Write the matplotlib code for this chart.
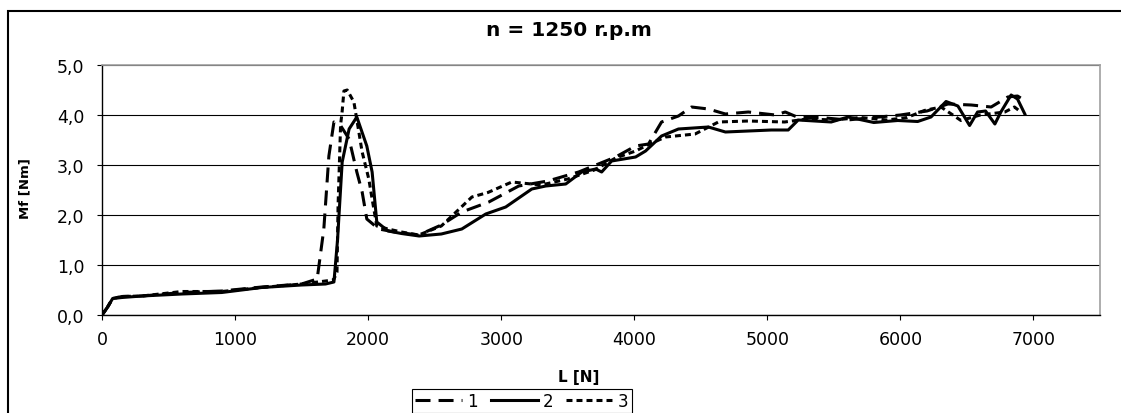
import matplotlib.pyplot as plt
from matplotlib.patches import Rectangle

plt.rcParams['font.family'] = ['DejaVu Sans']
plt.rcParams['lines.scale_dashes'] = False

# datos: L [N] y Mf [Nm]
L1 = [0, 40, 80, 150, 300, 600, 900, 1200, 1500, 1617, 1667, 1705, 1743, 1790, 1857, 1915, 1955, 1990, 2080,
      2200, 2380, 2550, 2704, 2907, 3132, 3350, 3582, 3860, 4010, 4107, 4205, 4332, 4430, 4557, 4685, 4857,
      5060, 5135, 5232, 5400, 5600, 5800, 6000, 6200, 6357, 6532, 6682, 6807, 6880, 6935]
M1 = [0, 0.15, 0.33, 0.37, 0.38, 0.45, 0.48, 0.56, 0.62, 0.72, 1.72, 3.18, 3.86, 3.8, 3.52, 2.86, 2.46, 1.92, 1.72,
      1.66, 1.6, 1.8, 2.06, 2.26, 2.58, 2.68, 2.86, 3.16, 3.38, 3.42, 3.86, 3.98, 4.16, 4.12, 4.02, 4.06,
      4.0, 4.06, 3.95, 3.95, 3.9, 3.95, 4.0, 4.08, 4.22, 4.2, 4.16, 4.36, 4.38, 4.29]

L2 = [0, 40, 80, 150, 300, 600, 900, 1200, 1500, 1680, 1743, 1770, 1805, 1857, 1915, 1990, 2030, 2065, 2150,
      2250, 2383, 2550, 2704, 2884, 3034, 3230, 3335, 3485, 3605, 3710, 3755, 3830, 4010, 4085, 4205, 4332,
      4557, 4685, 4857, 5030, 5157, 5232, 5480, 5607, 5800, 5980, 6130, 6230, 6343, 6432, 6520, 6580, 6640,
      6710, 6755, 6832, 6880, 6935]
M2 = [0, 0.15, 0.33, 0.35, 0.38, 0.42, 0.45, 0.55, 0.6, 0.62, 0.66, 1.5, 3.06, 3.72, 3.96, 3.38, 2.86, 1.86, 1.68,
      1.63, 1.58, 1.62, 1.72, 2.02, 2.16, 2.52, 2.58, 2.62, 2.86, 2.92, 2.86, 3.08, 3.16, 3.28, 3.58, 3.72,
      3.76, 3.66, 3.68, 3.7, 3.7, 3.9, 3.86, 3.96, 3.85, 3.89, 3.87, 3.96, 4.27, 4.18, 3.79, 4.06, 4.08,
      3.82, 4.06, 4.4, 4.32, 4.02]

L3 = [0, 40, 80, 150, 300, 600, 900, 1200, 1500, 1740, 1766, 1774, 1793, 1805, 1818, 1843, 1893, 1955, 2005,
      2030, 2065, 2150, 2250, 2380, 2550, 2780, 2900, 3080, 3300, 3500, 3700, 3860, 4010, 4100, 4235, 4457,
      4632, 4857, 5130, 5300, 5500, 5700, 5900, 6050, 6180, 6305, 6455, 6600, 6785, 6857, 6905]
M3 = [0, 0.15, 0.33, 0.37, 0.38, 0.47, 0.47, 0.55, 0.62, 0.7, 0.86, 2.18, 3.8, 4.08, 4.48, 4.5, 4.26, 3.26, 2.72,
      2.32, 1.78, 1.72, 1.66, 1.6, 1.78, 2.36, 2.45, 2.66, 2.6, 2.72, 2.9, 3.14, 3.28, 3.4, 3.56, 3.62,
      3.86, 3.88, 3.86, 3.92, 3.9, 3.95, 3.9, 3.95, 4.09, 4.16, 3.89, 4.0, 4.06, 4.16, 4.06]

etiquetas = ['1', '2', '3']
ticks_x = [0, 1000, 2000, 3000, 4000, 5000, 6000, 7000]
ticks_y = [0, 1, 2, 3, 4, 5]

W, H = 1121, 414
fig = plt.figure(figsize=(W / 100, H / 100), dpi=100)
ax = fig.add_axes([102 / W, 1 - 316 / H, (1100 - 102) / W, (316 - 66) / H])

ax.plot(L1, M1, color='black', lw=2.2, dashes=(10.8, 5.8), label=etiquetas[0])
ax.plot(L2, M2, color='black', lw=2.2, label=etiquetas[1])
ax.plot(L3, M3, color='black', lw=2.2, dashes=(4.3, 2.9), label=etiquetas[2])

ax.set_xlim(0, 7500)
ax.set_ylim(0, 5)
ax.set_xticks(ticks_x)
ax.set_yticks(ticks_y)
ax.set_yticklabels([f'{v:.1f}'.replace('.', ',') for v in ticks_y])
ax.yaxis.grid(True, color='black', lw=0.8)
ax.set_axisbelow(True)

for s in ['left', 'bottom']:
    ax.spines[s].set_color('black')
    ax.spines[s].set_linewidth(1)
for s in ['top', 'right']:
    ax.spines[s].set_color('#a0a0a0')
    ax.spines[s].set_linewidth(1.2)

ax.tick_params(axis='x', direction='out', length=3.6, width=0.8, pad=7, labelsize=12.5)
ax.tick_params(axis='y', direction='out', length=3.6, width=0.8, pad=9, labelsize=12.5)

fig.text(569 / W, 1 - 30 / H, 'n = 1250 r.p.m', ha='center', va='center', fontsize=14.5, fontweight='bold')
fig.text(579 / W, 1 - 378 / H, 'L [N]', ha='center', va='center', fontsize=11, fontweight='bold')
fig.text(25 / W, 1 - 188.5 / H, 'Mf [Nm]', ha='center', va='center', rotation=90, fontsize=9.5,
         fontweight='bold')

leg = ax.legend(ncol=3, loc='center', bbox_to_anchor=(522 / W, 1 - 402 / H),
                bbox_transform=fig.transFigure, frameon=True, fancybox=False, edgecolor='black',
                framealpha=1, handlelength=2.8, handletextpad=0.3, columnspacing=0.8,
                borderpad=0.2, fontsize=12)
leg.get_frame().set_linewidth(0.8)

# marco exterior del grafico (cortado a la derecha y abajo)
top = 1 - 11.7 / H
fig.add_artist(Rectangle((8 / W, -0.5), 2, top + 0.5, transform=fig.transFigure,
                         fill=False, ec='black', lw=1.5))

fig.savefig('out.png', dpi=100)
